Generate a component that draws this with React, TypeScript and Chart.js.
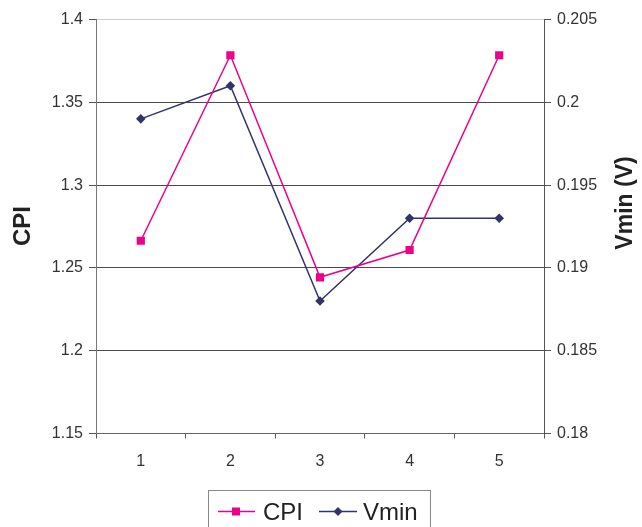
import React, { useEffect, useRef } from "react";
import { Chart, registerables } from "chart.js";

Chart.register(...registerables);

const categories = ["1", "2", "3", "4", "5"];
const cpiValues = [1.2664, 1.3784, 1.2443, 1.2608, 1.3784];
const vminValues = [0.199, 0.201, 0.188, 0.193, 0.193];
const cpiTicks = { min: 1.15, max: 1.4, step: 0.05 };
const vminTicks = { min: 0.18, max: 0.205, step: 0.005 };

const CPI_COLOR = "#ec008c";
const VMIN_COLOR = "#33336b";
const FONT = "'Liberation Sans', Arial, sans-serif";

const fmt = (v: number) => String(Number(Number(v).toFixed(4)));

const decorPlugin = {
  id: "decor",
  afterDraw(chart: any) {
    const ctx = chart.ctx;
    ctx.save();
    // axis titles
    ctx.fillStyle = "#222";
    ctx.font = `bold 24px ${FONT}`;
    ctx.textAlign = "center";
    ctx.textBaseline = "middle";
    ctx.save();
    ctx.translate(23, 226);
    ctx.rotate(-Math.PI / 2);
    ctx.fillText("CPI", 0, 0);
    ctx.restore();
    ctx.save();
    ctx.font = `bold 23px ${FONT}`;
    ctx.translate(626, 203);
    ctx.rotate(-Math.PI / 2);
    ctx.fillText("Vmin (V)", 0, 0);
    ctx.restore();

    // legend
    ctx.strokeStyle = "#888";
    ctx.lineWidth = 1;
    ctx.strokeRect(208.5, 490.5, 222, 45);
    const ly = 511.5;
    ctx.lineWidth = 1.5;
    // CPI
    ctx.strokeStyle = CPI_COLOR;
    ctx.beginPath();
    ctx.moveTo(218, ly);
    ctx.lineTo(255, ly);
    ctx.stroke();
    ctx.fillStyle = CPI_COLOR;
    ctx.fillRect(236 - 4, ly - 4, 8, 8);
    // Vmin
    ctx.strokeStyle = VMIN_COLOR;
    ctx.beginPath();
    ctx.moveTo(319, ly);
    ctx.lineTo(357, ly);
    ctx.stroke();
    ctx.fillStyle = VMIN_COLOR;
    ctx.beginPath();
    ctx.moveTo(338, ly - 4.5);
    ctx.lineTo(342.5, ly);
    ctx.lineTo(338, ly + 4.5);
    ctx.lineTo(333.5, ly);
    ctx.closePath();
    ctx.fill();
    ctx.fillStyle = "#222";
    ctx.font = `24px ${FONT}`;
    ctx.textAlign = "left";
    ctx.textBaseline = "alphabetic";
    ctx.fillText("CPI", 263, 520);
    ctx.fillText("Vmin", 363, 520);
    ctx.restore();
  },
};

export default function App() {
  const ref = useRef<HTMLCanvasElement>(null);
  useEffect(() => {
    if (!ref.current) return;
    const chart = new Chart(ref.current, {
      type: "line",
      data: {
        labels: categories,
        datasets: [
          {
            label: "CPI",
            data: cpiValues,
            yAxisID: "y",
            borderColor: CPI_COLOR,
            backgroundColor: CPI_COLOR,
            borderWidth: 1.5,
            pointStyle: "rect",
            pointRadius: 5.8,
            pointBorderWidth: 0,
            tension: 0,
          },
          {
            label: "Vmin",
            data: vminValues,
            yAxisID: "y1",
            borderColor: VMIN_COLOR,
            backgroundColor: VMIN_COLOR,
            borderWidth: 1.5,
            pointStyle: "rectRot",
            pointRadius: 4.8,
            pointBorderWidth: 0,
            tension: 0,
          },
        ],
      },
      options: {
        responsive: false,
        animation: false,
        layout: { padding: { top: 19.5, left: 0, right: 0, bottom: 0 } },
        plugins: {
          legend: { display: false },
          tooltip: { enabled: false },
        },
        scales: {
          x: {
            type: "category",
            offset: true,
            grid: {
              offset: true,
              drawOnChartArea: false,
              drawTicks: true,
              tickLength: 5,
              color: "#555",
            },
            border: { color: "#666", width: 1 },
            ticks: {
              color: "#333",
              font: { size: 16, family: FONT },
              padding: 13,
            },
            afterFit: (s: any) => {
              s.height = 93.5;
            },
          },
          y: {
            position: "left",
            min: cpiTicks.min,
            max: cpiTicks.max,
            ticks: {
              stepSize: cpiTicks.step,
              color: "#333",
              font: { size: 16, family: FONT },
              padding: 6,
              callback: (v: any) => fmt(v),
            },
            grid: {
              color: (c: any) =>
                c.tick && Math.abs(c.tick.value - cpiTicks.max) < 1e-9 ? "#cfcfcf" : "#4a4a4a",
              tickColor: "#555",
              tickLength: 7,
              lineWidth: 1,
            },
            border: { color: "#777", width: 1 },
            afterFit: (s: any) => {
              s.width = 96;
            },
          },
          y1: {
            position: "right",
            min: vminTicks.min,
            max: vminTicks.max,
            ticks: {
              stepSize: vminTicks.step,
              color: "#333",
              font: { size: 16, family: FONT },
              padding: 6,
              callback: (v: any) => fmt(v),
            },
            grid: {
              drawOnChartArea: false,
              color: "#555",
              tickLength: 7,
            },
            border: { color: "#555", width: 1 },
            afterFit: (s: any) => {
              s.width = 98;
            },
          },
        },
      },
      plugins: [decorPlugin],
    } as any);
    return () => chart.destroy();
  }, []);
  return (
    <div style={{ position: "absolute", left: 0, top: 0, width: 642, height: 527, background: "#fff" }}>
      <canvas ref={ref} width={642} height={527} style={{ display: "block", width: 642, height: 527 }} />
    </div>
  );
}
